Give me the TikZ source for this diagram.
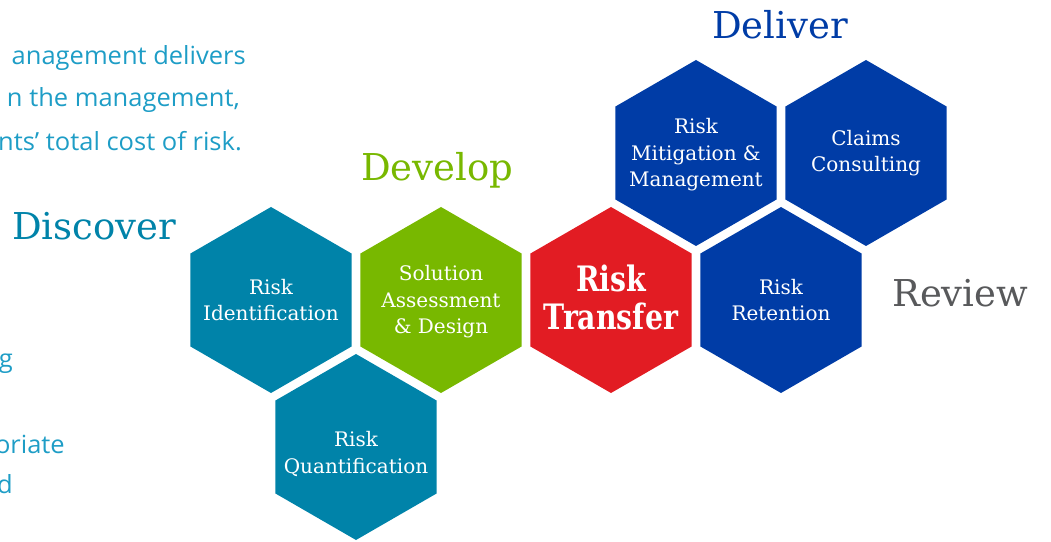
\documentclass[tikz,border=0pt]{standalone}
\usepackage{fontspec}
\setmainfont{DejaVu Serif}
\newfontfamily\slab{DejaVu Serif}
\newfontfamily\slabnarrow[FakeStretch=0.81]{DejaVu Serif}
\newfontfamily\bodysans[FakeStretch=1.02]{Open Sans}
\usetikzlibrary{shapes.geometric}
\definecolor{tealc}{HTML}{0083A9}
\definecolor{greenc}{HTML}{78B800}
\definecolor{redc}{HTML}{E21C23}
\definecolor{bluec}{HTML}{003CA6}
\definecolor{grayc}{HTML}{58595B}
\definecolor{leftc}{HTML}{1E9DC6}
\begin{document}
\begin{tikzpicture}[x=1bp,y=-1bp,
  hexa/.style={regular polygon, regular polygon sides=6, shape border rotate=30,
    minimum size=186bp, inner sep=0pt, outer sep=0pt, draw=none},
  hextext/.style={text=white, align=center, inner sep=0pt,
    font=\slab\fontsize{20bp}{26.5bp}\selectfont},
  bigtext/.style={text=white, align=center, inner sep=0pt,
    font=\slabnarrow\bfseries\fontsize{35bp}{38bp}\selectfont},
  heading/.style={anchor=base west, inner sep=0pt,
    font=\slab\fontsize{37bp}{40bp}\selectfont},
  bodytext/.style={anchor=base east, inner sep=0pt, text=leftc,
    font=\bodysans\fontsize{25bp}{30bp}\selectfont}]
\useasboundingbox (0,0) rectangle (1051,542);

% hexagons
\node[hexa, fill=tealc]  (ident)   at (271,300) {};
\node[hexa, fill=greenc] (sol)     at (441,300) {};
\node[hexa, fill=redc]   (transf)  at (611,300) {};
\node[hexa, fill=bluec]  (reten)   at (781,300) {};
\node[hexa, fill=bluec]  (mitig)   at (696,153) {};
\node[hexa, fill=bluec]  (claims)  at (866,153) {};
\node[hexa, fill=tealc]  (quant)   at (356,447) {};

% hexagon texts (yshift is in canvas units: positive = up)
\node[hextext] (identT)  at (ident)  {Risk\\Identification};
\node[hextext] (solT)    at ([yshift=-2bp]sol)    {Solution\\Assessment\\\& Design};
\node[bigtext] (transfT) at ([yshift=3bp]transf) {Risk\\Transfer};
\node[hextext] (retenT)  at (reten)  {Risk\\Retention};
\node[hextext] (mitigT)  at ([yshift=-2bp]mitig)  {Risk\\Mitigation \&\\Management};
\node[hextext] (claimsT) at (claims) {Claims\\Consulting};
\node[hextext] (quantT)  at ([yshift=-7bp]quant)  {Risk\\Quantification};

% headings
\node[heading, text=bluec]  (deliver)  at (712,39)  {Deliver};
\node[heading, text=greenc] (develop)  at (361,181) {Develop};
\node[heading, text=tealc]  (discover) at (12,240)  {Discover};
\node[heading, text=grayc]  (review)   at (892,307) {Review};

% left text (clipped by page edge, as in the reference)
\node[bodytext] (l1) at (246,65)  {anagement delivers};
\node[bodytext] (l2) at (240,107) {n the management,};
\node[bodytext] (l3) at (242,151) {nts’ total cost of risk.};
\node[bodytext] (l4) at (13,368)  {g};
\node[bodytext] (l5) at (65,453)  {oriate};
\node[bodytext] (l6) at (13,493)  {d};
\end{tikzpicture}
\end{document}
